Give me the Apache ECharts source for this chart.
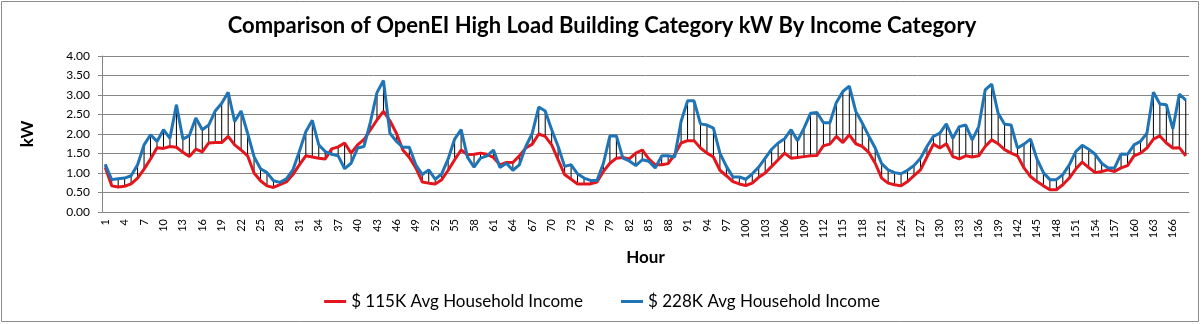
<!DOCTYPE html>
<html>
<head>
<meta charset="utf-8">
<script src="https://cdn.jsdelivr.net/npm/echarts@6/dist/echarts.min.js"></script>
<style>
html,body{margin:0;padding:0;background:#fff;}
#chart{width:1204px;height:324px;}
</style>
</head>
<body>
<div id="chart"></div>
<script>
const titleText = 'Comparison of OpenEI High Load Building Category kW By Income Category';
const seriesNames = ['$ 115K Avg Household Income', '$ 228K Avg Household Income'];
const hours = Array.from({length: 168}, (_, i) => String(i + 1));
const yTicks = [0, 0.5, 1, 1.5, 2, 2.5, 3, 3.5, 4];

const income115 = [
1.15,0.67,0.64,0.66,0.72,0.87,1.10,1.36,1.65,1.63,1.68,1.66,1.53,1.42,1.61,1.54,1.77,1.78,1.78,1.94,1.72,1.59,1.44,1.00,
0.80,0.67,0.63,0.70,0.77,0.96,1.21,1.44,1.41,1.38,1.36,1.62,1.67,1.77,1.51,1.72,1.86,2.11,2.36,2.58,2.34,2.02,1.59,1.40,
1.13,0.77,0.74,0.72,0.83,1.07,1.34,1.59,1.47,1.48,1.51,1.48,1.40,1.21,1.27,1.27,1.44,1.64,1.74,2.00,1.94,1.72,1.34,0.96,
0.84,0.72,0.72,0.72,0.77,1.04,1.25,1.38,1.40,1.36,1.51,1.59,1.36,1.21,1.21,1.24,1.47,1.77,1.83,1.83,1.64,1.51,1.41,1.07,
0.93,0.78,0.72,0.68,0.74,0.89,1.00,1.17,1.34,1.51,1.38,1.40,1.42,1.44,1.45,1.70,1.74,1.94,1.78,1.98,1.75,1.68,1.53,1.25,
0.87,0.74,0.70,0.67,0.78,0.93,1.08,1.41,1.74,1.64,1.75,1.42,1.36,1.44,1.41,1.44,1.68,1.85,1.75,1.60,1.51,1.44,1.13,0.91,
0.78,0.67,0.57,0.57,0.70,0.87,1.10,1.28,1.14,1.01,1.04,1.08,1.04,1.13,1.19,1.44,1.51,1.64,1.87,1.95,1.77,1.64,1.65,1.44
];

const income228 = [
1.22,0.83,0.85,0.87,0.93,1.21,1.72,1.98,1.81,2.11,1.89,2.75,1.87,1.96,2.41,2.11,2.23,2.59,2.79,3.07,2.32,2.59,2.02,1.42,
1.11,1.01,0.80,0.76,0.85,1.08,1.55,2.06,2.35,1.72,1.55,1.48,1.44,1.11,1.25,1.64,1.68,2.32,3.06,3.37,2.02,1.81,1.66,1.66,
1.21,0.96,1.08,0.84,0.98,1.36,1.87,2.11,1.40,1.15,1.38,1.44,1.59,1.14,1.25,1.07,1.21,1.68,2.02,2.69,2.59,2.11,1.68,1.17,
1.21,0.98,0.87,0.81,0.81,1.25,1.95,1.95,1.38,1.31,1.19,1.34,1.30,1.13,1.44,1.44,1.41,2.32,2.85,2.85,2.26,2.23,2.15,1.51,
1.17,0.90,0.90,0.84,0.98,1.15,1.38,1.61,1.77,1.88,2.11,1.83,2.15,2.53,2.55,2.29,2.29,2.81,3.09,3.23,2.58,2.28,1.95,1.64,
1.24,1.08,1.01,0.98,1.07,1.19,1.38,1.68,1.94,2.02,2.26,1.89,2.19,2.23,1.85,2.19,3.13,3.28,2.53,2.25,2.23,1.64,1.74,1.87,
1.36,1.01,0.83,0.83,0.96,1.21,1.55,1.71,1.61,1.48,1.25,1.13,1.13,1.49,1.48,1.72,1.81,2.02,3.07,2.77,2.75,2.13,3.02,2.87
];

const dropData = income115.map((v, i) => [i, Math.min(v, income228[i]), Math.max(v, income228[i])]);

const FONT = 'Lato, "Open Sans", sans-serif';
const chart = echarts.init(document.getElementById('chart'), null, {renderer: 'canvas'});
chart.setOption({
  animation: false,
  backgroundColor: '#ffffff',
  textStyle: {fontFamily: FONT},
  title: {
    text: titleText,
    left: 'center',
    top: 10,
    textStyle: {fontFamily: FONT, fontWeight: 'bold', fontSize: 22, color: '#000'}
  },
  graphic: [{
    type: 'rect',
    shape: {x: 1.5, y: 1.5, width: 1197, height: 320},
    style: {fill: null, stroke: '#8c8c8c', lineWidth: 1},
    silent: true
  }],
  grid: {left: 102, right: 15, top: 56, bottom: 112},
  legend: {
    data: seriesNames,
    left: 'center',
    top: 288,
    icon: 'rect',
    itemWidth: 22,
    itemHeight: 3,
    itemGap: 38,
    textStyle: {fontFamily: FONT, fontSize: 17, color: '#000'}
  },
  xAxis: {
    type: 'category',
    data: hours,
    boundaryGap: true,
    axisLine: {lineStyle: {color: '#868686'}},
    axisTick: {show: false},
    axisLabel: {interval: 2, rotate: 90, fontSize: 11, color: '#000', margin: 7, fontFamily: FONT},
    splitLine: {show: false},
    name: 'Hour',
    nameLocation: 'middle',
    nameGap: 37,
    nameTextStyle: {fontFamily: FONT, fontWeight: 'bold', fontSize: 17, color: '#000'}
  },
  yAxis: {
    type: 'value',
    min: yTicks[0],
    max: yTicks[yTicks.length - 1],
    interval: 0.5,
    axisLine: {show: true, lineStyle: {color: '#868686'}},
    axisTick: {show: true, length: 4, lineStyle: {color: '#868686'}},
    axisLabel: {formatter: v => v.toFixed(2), fontSize: 12, color: '#000', margin: 12, fontFamily: FONT},
    splitLine: {lineStyle: {color: '#868686', width: 1}},
    name: 'kW',
    nameLocation: 'middle',
    nameRotate: 90,
    nameGap: 66,
    nameTextStyle: {fontFamily: FONT, fontWeight: 'bold', fontSize: 17, color: '#000'}
  },
  series: [
    {
      type: 'custom',
      name: 'drop',
      data: dropData,
      z: 1,
      silent: true,
      encode: {x: 0, y: [1, 2]},
      renderItem: function (params, api) {
        const p1 = api.coord([api.value(0), api.value(1)]);
        const p2 = api.coord([api.value(0), api.value(2)]);
        return {
          type: 'line',
          shape: {x1: p1[0], y1: p1[1], x2: p2[0], y2: p2[1]},
          style: {stroke: '#000', lineWidth: 1}
        };
      }
    },
    {
      type: 'line',
      name: seriesNames[0],
      data: income115,
      symbol: 'none',
      z: 3,
      color: '#e3161d',
      lineStyle: {color: '#e3161d', width: 3}
    },
    {
      type: 'line',
      name: seriesNames[1],
      data: income228,
      symbol: 'none',
      z: 4,
      color: '#1f74b6',
      lineStyle: {color: '#1f74b6', width: 3}
    }
  ]
});
</script>
</body>
</html>
